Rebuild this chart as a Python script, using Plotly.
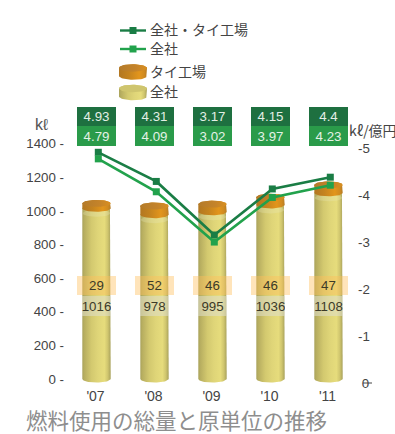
import numpy as np
import plotly.graph_objects as go

years = ["'07", "'08", "'09", "'10", "'11"]
total_fuel = [1016, 978, 995, 1036, 1108]
thai_fuel = [29, 52, 46, 46, 47]
intensity_group = [4.93, 4.31, 3.17, 4.15, 4.4]
intensity_total = [4.79, 4.09, 3.02, 3.97, 4.23]
left_ticks = [0, 200, 400, 600, 800, 1000, 1200, 1400]
right_ticks = [0, 1, 2, 3, 4, 5]

W, H = 395, 434
FIRST_X, STEP = 96.5, 58.0
ZERO_PX, PX_PER_KL = 380.0, 0.168
ZERO_R, PX_PER_R = 384.0, 47.0
BASE = 6.0           # cylinder base centre sits slightly above the zero line
HALF_W = 14.2 / STEP
RY = 3.5 / PX_PER_KL

YELLOW = [[0, "#a9a25b"], [0.07, "#b7ae60"], [0.22, "#c8be69"], [0.32, "#d3c96f"],
          [0.55, "#dfd578"], [0.78, "#e6dc7c"], [0.9, "#cfc56e"], [1, "#a8a15b"]]
ORANGE = [[0, "#b27722"], [0.35, "#c4831f"], [0.72, "#e2951c"], [0.9, "#d08a20"], [1, "#b57b25"]]
ORANGE_TOP = [[0, "#b47b2a"], [0.6, "#c4832a"], [1, "#d98f20"]]

t = np.linspace(0, np.pi, 30)


def side(cx, y0, y1, hw, ry):
    """Outline of a cylinder wall between two elliptical rims."""
    xs = np.concatenate([cx - hw * np.cos(t), cx + hw * np.cos(t)])
    ys = np.concatenate([y0 - ry * np.sin(t), y1 + ry * np.sin(t)])
    return xs, ys


def ellipse(cx, cy, hw, ry):
    a = np.linspace(0, 2 * np.pi, 60)
    return cx + hw * np.cos(a), cy + ry * np.sin(a)


def solid(xs, ys, scale, xa="x", ya="y"):
    return go.Scatter(x=xs, y=ys, mode="lines", line=dict(width=0), fill="toself",
                      fillgradient=dict(type="horizontal", colorscale=scale),
                      xaxis=xa, yaxis=ya, hoverinfo="skip", showlegend=False)


fig = go.Figure()

# Stacked cylinders: company-wide fuel with the Thai plant on top
for i, (a, b) in enumerate(zip(total_fuel, thai_fuel)):
    y1 = BASE + a
    y2 = y1 + b
    xs, ys = side(i, BASE, y1, HALF_W, RY)
    fig.add_trace(solid(xs, ys, YELLOW))
    ex, ey = ellipse(i, y1 - 5 / PX_PER_KL, HALF_W * 0.97, RY)
    fig.add_trace(go.Scatter(x=ex, y=ey, mode="lines", line=dict(width=0), fill="toself",
                             fillcolor="rgba(235,232,190,0.28)", hoverinfo="skip", showlegend=False))
    xs, ys = side(i, y1, y2, HALF_W, RY)
    fig.add_trace(solid(xs, ys, ORANGE))
    ex, ey = ellipse(i, y2, HALF_W, RY)
    fig.add_trace(solid(ex, ey, ORANGE_TOP))

# Intensity lines on the secondary axis
for values, colour in ((intensity_group, "#1a7d45"), (intensity_total, "#22a24c")):
    fig.add_trace(go.Scatter(x=list(range(5)), y=values, mode="lines+markers", xaxis="x2", yaxis="y2",
                             line=dict(color=colour, width=2.6),
                             marker=dict(symbol="square", size=7, color=colour),
                             hoverinfo="skip", showlegend=False))

# Legend keys, placed in page coordinates
for y, colour in ((30.5, "#1a7d45"), (49, "#22a24c")):
    fig.add_trace(go.Scatter(x=[120, 146], y=[y, y], mode="lines", xaxis="x3", yaxis="y3",
                             line=dict(color=colour, width=2.4), hoverinfo="skip", showlegend=False))
    fig.add_trace(go.Scatter(x=[133], y=[y], mode="markers", xaxis="x3", yaxis="y3",
                             marker=dict(symbol="square", size=7, color=colour),
                             hoverinfo="skip", showlegend=False))
for cy, scale, top in ((68, ORANGE, ORANGE_TOP), (88.5, YELLOW, "#cfc56e")):
    xs, ys = side(133, cy, cy + 8, 14, 3.8)
    fig.add_trace(solid(xs, ys, scale, "x3", "y3"))
    ex, ey = ellipse(133, cy, 14, 3.8)
    if isinstance(top, str):
        fig.add_trace(go.Scatter(x=ex, y=ey, mode="lines", line=dict(width=0), fill="toself", fillcolor=top,
                                 xaxis="x3", yaxis="y3", hoverinfo="skip", showlegend=False))
    else:
        fig.add_trace(solid(ex, ey, top, "x3", "y3"))

TEXT = "#444444"
NUM = "Liberation Sans, Arial, sans-serif"
CJK = "Noto Sans CJK JP, sans-serif"
notes = []


def px_note(text, x, y, size=13.3, color=TEXT, family=NUM, anchor="left"):
    notes.append(dict(text=text, x=x, y=y, xref="x3", yref="y3", xanchor=anchor, yanchor="middle",
                      showarrow=False, font=dict(size=size, color=color, family=family)))


def boxed(i, y, text, w, h, bg, color):
    notes.append(dict(text=str(text), x=i, y=y, xref="x", yref="y3", xanchor="center", yanchor="middle",
                      width=w, height=h, bgcolor=bg, borderpad=0, borderwidth=0, showarrow=False,
                      valign="middle", font=dict(size=13.3, color=color, family=NUM)))


px_note("全社・タイ工場", 148, 28.5, 14, family=CJK)
px_note("全社", 148, 47.5, 14, family=CJK)
px_note("タイ工場", 148, 70.5, 14, family=CJK)
px_note("全社", 148, 90.5, 14, family=CJK)
px_note("kℓ", 41.5, 124, 16, anchor="center", color="#555555")
px_note("kℓ/億円", 347, 130, 14, family=CJK)
px_note("燃料使用の総量と原単位の推移", 24, 419, 21.5, color="#8e8e8e", family=CJK)

for i in range(5):
    boxed(i, 116.5, intensity_group[i], 39, 19, "#1e7040", "#e4efe6")
    boxed(i, 136, intensity_total[i], 39, 20, "#2a9b4a", "#e4f2e6")
    boxed(i, 285.5, thai_fuel[i], 39, 19, "rgba(255,190,90,0.42)", "#3c3a28")
    boxed(i, 305.5, total_fuel[i], 29, 20, "rgba(222,222,205,0.55)", "#3c3a28")

# The right-hand zero label carries its tick dash straight through the digit
shapes = [dict(type="line", xref="x3", yref="y3", x0=363, x1=372, y0=383, y1=383,
               line=dict(color=TEXT, width=1))]

x_range = [-FIRST_X / STEP, (W - FIRST_X) / STEP]
left_range = [(ZERO_PX - H) / PX_PER_KL, ZERO_PX / PX_PER_KL]
right_range = [(ZERO_R - H) / PX_PER_R, ZERO_R / PX_PER_R]
hidden = dict(visible=False, fixedrange=True)

fig.update_layout(
    width=W, height=H, margin=dict(l=0, r=0, t=0, b=0), autosize=False,
    paper_bgcolor="white", plot_bgcolor="rgba(0,0,0,0)", showlegend=False,
    font=dict(family=NUM, size=13.3, color=TEXT),
    annotations=notes, shapes=shapes,
    xaxis=dict(range=x_range, domain=[0, 1], anchor="free", position=(H - 386) / H, showgrid=False,
               zeroline=False, showline=False, ticks="", tickmode="array", tickvals=list(range(5)),
               ticktext=years, tickfont=dict(size=14), ticklabelshift=-1, fixedrange=True),
    yaxis=dict(range=left_range, domain=[0, 1], anchor="free", position=64 / W, showgrid=False,
               zeroline=False, showline=False, ticks="", tickmode="array", tickvals=left_ticks,
               ticktext=[f"{v} -" for v in left_ticks], ticklabelshift=-1, fixedrange=True),
    xaxis2=dict(range=[x_range[0] - 1.8 / STEP, x_range[1] - 1.8 / STEP], overlaying="x", **hidden),
    yaxis2=dict(range=right_range, overlaying="y", side="right", anchor="free", position=357 / W,
                showgrid=False, zeroline=False, showline=False, ticks="", tickmode="array",
                tickvals=right_ticks, ticktext=[f"-{v}" if v else "\u00a00" for v in right_ticks],
                ticklabelshift=-1, fixedrange=True),
    xaxis3=dict(range=[0, W], overlaying="x", **hidden),
    yaxis3=dict(range=[H, 0], overlaying="y", **hidden),
)

fig.write_html("out.html", config=dict(displayModeBar=False))
